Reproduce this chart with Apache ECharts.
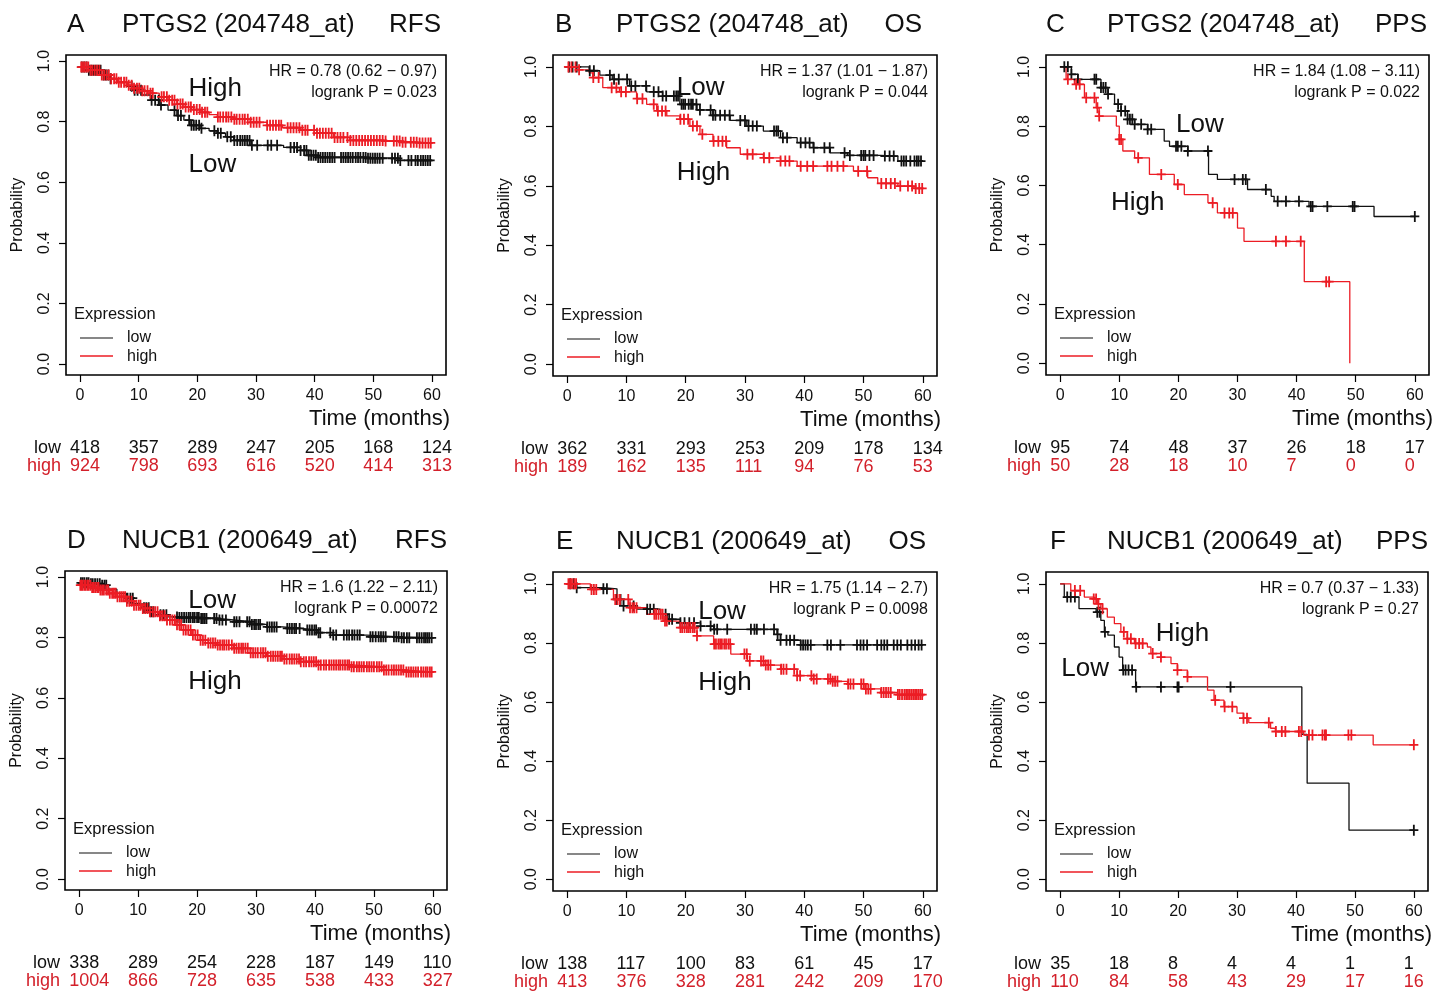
<!DOCTYPE html>
<html>
<head>
<meta charset="utf-8">
<title>PTGS2 / NUCB1 Kaplan-Meier</title>
<script src="https://cdn.jsdelivr.net/npm/echarts@6/dist/echarts.min.js"></script>
<style>
  html, body { margin: 0; padding: 0; background: #fff; }
  #chart { width: 1448px; height: 991px; }
</style>
</head>
<body>
<div id="chart"></div>
<script>
// ---- data ----
const ticksX = [0, 10, 20, 30, 40, 50, 60];
const ticksY = [0, 0.2, 0.4, 0.6, 0.8, 1.0];

// A  PTGS2 RFS
const aLowT = [0, 1.5, 3.6, 5, 6.4, 8, 9.2, 10.5, 12, 13.5, 15, 16.5, 17.7, 18.9, 20.6, 22, 23.4, 24.8, 26.2, 29, 34.7, 37.6, 38.7, 40.4, 49, 54.6, 60];
const aLowS = [0.98, 0.97, 0.954, 0.942, 0.93, 0.917, 0.904, 0.888, 0.871, 0.855, 0.838, 0.82, 0.805, 0.788, 0.778, 0.77, 0.762, 0.75, 0.738, 0.722, 0.715, 0.705, 0.689, 0.682, 0.679, 0.672, 0.669];
const aLowC = [0.3, 0.7, 1.1, 1.5, 1.9, 2.3, 2.7, 3.1, 3.5, 4, 4.4, 4.8, 5.2, 8.8, 9.3, 9.8, 10.4, 12.2, 12.8, 13.4, 13.8, 16.1, 16.7, 17.2, 18.6, 19, 19.4, 19.8, 20.3, 20.7, 22.9, 23.5, 24, 25.1, 25.7, 26.3, 26.8, 27.3, 27.7, 28.1, 28.5, 28.9, 29.3, 30.2, 32, 32.6, 33.6, 35.9, 36.5, 37, 37.6, 38.2, 38.6, 39, 39.4, 39.8, 40.2, 40.6, 41, 41.4, 41.8, 42.2, 42.6, 43, 43.4, 44.5, 44.9, 45.3, 45.7, 46.1, 46.5, 47, 47.4, 47.8, 48.3, 48.7, 49.1, 49.5, 49.9, 50.3, 50.7, 51.1, 51.6, 53.2, 53.7, 54.2, 54.6, 56, 56.5, 57.2, 57.6, 58.1, 58.5, 58.9, 59.3, 59.7];
const aHighT = [0, 1.5, 3.6, 5, 6.4, 8, 9.2, 10.5, 12, 13.5, 15, 16.5, 17.7, 19, 20.6, 22, 23.4, 26.2, 29, 31.9, 34.5, 37.6, 40.4, 43.2, 46, 51.7, 54.6, 57.5, 60];
const aHighS = [0.98, 0.97, 0.954, 0.942, 0.93, 0.92, 0.91, 0.902, 0.894, 0.882, 0.871, 0.858, 0.848, 0.84, 0.831, 0.823, 0.815, 0.808, 0.798, 0.788, 0.78, 0.772, 0.762, 0.748, 0.738, 0.736, 0.732, 0.73, 0.73];
const aHighC = [0.2, 0.5, 0.8, 1.1, 1.4, 1.8, 2.1, 2.5, 2.9, 3.3, 3.7, 4.1, 4.5, 4.9, 5.3, 5.8, 6.2, 6.6, 7, 7.5, 7.9, 8.3, 8.8, 9.2, 9.7, 10.1, 10.6, 11, 11.5, 12, 12.4, 13.9, 14.3, 14.8, 15.2, 15.7, 16.1, 16.6, 17.1, 17.5, 18, 18.5, 18.9, 19.4, 19.9, 20.4, 20.8, 21.3, 21.7, 23.5, 23.9, 24.4, 24.9, 25.3, 25.8, 26.3, 26.7, 27.2, 27.7, 28.1, 28.6, 29.1, 29.6, 30.1, 30.6, 31.9, 32.4, 32.9, 33.4, 33.9, 34.3, 35.4, 35.9, 36.4, 36.9, 37.4, 37.9, 38.4, 38.8, 39.9, 40.4, 40.9, 41.4, 41.9, 42.4, 42.9, 43.4, 43.9, 44.4, 44.9, 45.6, 46.1, 46.6, 47.1, 47.6, 48.1, 48.6, 49.1, 49.6, 50.1, 50.6, 51.1, 51.6, 52.1, 53.5, 54, 54.5, 55, 55.5, 56.4, 56.9, 57.4, 57.9, 58.4, 58.9, 59.4, 59.8];
const aRiskLow = [418, 357, 289, 247, 205, 168, 124];
const aRiskHigh = [924, 798, 693, 616, 520, 414, 313];

// B  PTGS2 OS
const bLowT = [0, 3.7, 5.5, 7.6, 10.5, 13.4, 16.1, 19, 21.9, 24.6, 27.5, 30.3, 33.1, 36, 38.8, 41.5, 44.4, 47.3, 52.9, 55.8, 60];
const bLowS = [1.0, 0.987, 0.972, 0.958, 0.936, 0.916, 0.902, 0.874, 0.855, 0.837, 0.82, 0.801, 0.784, 0.762, 0.745, 0.728, 0.711, 0.702, 0.7, 0.683, 0.68];
const bLowC = [0.3, 0.9, 1.6, 3.8, 4.5, 7.2, 7.9, 8.7, 10.1, 10.8, 11.5, 13.3, 14.6, 15.4, 16.1, 16.7, 18, 18.4, 18.7, 19.3, 19.6, 19.9, 20.5, 20.9, 21.2, 21.8, 22.4, 24.2, 24.6, 25, 25.8, 26.6, 27.4, 29.2, 30, 30.6, 31.3, 32, 34.9, 35.3, 35.6, 36.4, 37.1, 39.4, 40.2, 40.9, 41.6, 43.4, 44.3, 46.8, 47.7, 49.6, 50, 50.3, 51, 51.7, 53.6, 54.4, 55.1, 56.4, 56.8, 57.2, 57.9, 58.6, 59, 59.3, 59.7];
const bHighT = [0, 2, 3.7, 4.3, 6, 8.8, 11.7, 13.4, 15.1, 16.8, 19, 20.7, 22.4, 24.6, 26.9, 29.2, 33.1, 36, 38.8, 46.1, 48.3, 50.7, 52.4, 55.8, 58.5, 60];
const bHighS = [1.0, 0.99, 0.98, 0.964, 0.93, 0.916, 0.893, 0.874, 0.852, 0.835, 0.824, 0.801, 0.773, 0.75, 0.728, 0.706, 0.694, 0.683, 0.666, 0.666, 0.649, 0.627, 0.608, 0.599, 0.591, 0.591];
const bHighC = [0.2, 0.7, 1.4, 2, 4.4, 5.3, 7.5, 8.3, 9.1, 9.9, 11.8, 12.7, 14.6, 15.3, 16, 16.6, 19.1, 19.7, 20.4, 21.2, 21.9, 22.8, 24.7, 25.5, 26.2, 26.8, 30.4, 31.3, 33.2, 34.1, 36, 36.8, 37.5, 39.4, 40.5, 41.5, 43.9, 44.6, 45.6, 46.6, 49.1, 50.6, 53, 53.8, 54.6, 55.3, 56.2, 57.5, 58.2, 58.8, 59.4, 59.9];
const bRiskLow = [362, 331, 293, 253, 209, 178, 134];
const bRiskHigh = [189, 162, 135, 111, 94, 76, 53];

// C  PTGS2 PPS
const cLowT = [0, 1.9, 3, 6.9, 8.1, 9.2, 10.3, 11.4, 12.6, 14.8, 17.6, 18.5, 21.6, 25.1, 26.6, 31.7, 35.7, 36.2, 42.1, 53.1, 60];
const cLowS = [1.0, 0.975, 0.958, 0.93, 0.908, 0.874, 0.851, 0.823, 0.806, 0.789, 0.749, 0.732, 0.716, 0.637, 0.62, 0.586, 0.563, 0.546, 0.529, 0.495, 0.495];
const cLowC = [0.7, 1.3, 1.9, 3, 5.8, 6.1, 6.9, 7.3, 7.7, 8.1, 9.8, 10.3, 11, 11.4, 11.8, 12.2, 12.6, 13.7, 14.8, 15.4, 19.6, 19.9, 20.5, 21.6, 25, 29.5, 30.9, 31.4, 34.8, 36.8, 38.2, 40.4, 42.4, 42.7, 45.2, 49.5, 49.8, 60];
const cHighT = [0, 1, 2.4, 4.1, 6.1, 6.6, 9.5, 10, 10.6, 12.6, 15.1, 19.3, 21, 25, 26.6, 30, 31.1, 41.3, 49];
const cHighS = [1.0, 0.958, 0.941, 0.896, 0.862, 0.834, 0.8, 0.755, 0.716, 0.693, 0.637, 0.603, 0.569, 0.541, 0.507, 0.456, 0.411, 0.275, 0];
const cHighC = [1.3, 2.7, 3.3, 4.4, 5.8, 6.3, 6.6, 10, 10.3, 13.2, 17.1, 19.9, 25.8, 27.8, 28.6, 29.2, 36.5, 38.2, 40.7, 45, 45.5];
const cRiskLow = [95, 74, 48, 37, 26, 18, 17];
const cRiskHigh = [50, 28, 18, 10, 7, 0, 0];

// D  NUCB1 RFS
const dLowT = [0, 2, 3.6, 5, 6.4, 8, 9.2, 10.5, 12, 13.5, 14.9, 17, 20.5, 23.5, 26.2, 29, 31.8, 34.5, 37.5, 40.5, 43.1, 48.8, 54.5, 60];
const dLowS = [0.981, 0.978, 0.973, 0.96, 0.946, 0.93, 0.913, 0.898, 0.885, 0.875, 0.868, 0.866, 0.863, 0.858, 0.852, 0.843, 0.835, 0.83, 0.825, 0.816, 0.808, 0.802, 0.799, 0.797];
const dLowC = [0.3, 0.6, 0.9, 1.3, 1.6, 2, 2.3, 2.7, 3.1, 3.5, 3.9, 4.3, 4.6, 8.2, 8.7, 9.1, 11, 11.4, 11.8, 12.2, 12.6, 13.8, 14.3, 14.8, 16.6, 17, 17.4, 17.8, 18.2, 18.6, 18.9, 19.3, 19.6, 20, 20.3, 20.7, 21, 21.3, 21.6, 22.9, 23.3, 23.8, 24.3, 24.9, 26.3, 26.7, 27.2, 28.5, 28.9, 29.3, 29.7, 30, 30.4, 30.7, 31.9, 32.3, 32.7, 33.1, 33.5, 35.3, 35.7, 36.1, 36.5, 36.8, 37.4, 38.7, 39.1, 39.5, 39.9, 40.2, 40.6, 40.9, 42.6, 43.1, 43.6, 44.9, 45.4, 45.8, 46.3, 46.7, 47.2, 47.6, 49.4, 49.8, 50.3, 50.8, 51.2, 51.6, 52, 53.4, 53.8, 54.2, 54.7, 55.1, 55.6, 56, 57.3, 57.7, 58.1, 58.5, 58.8, 59.1, 59.4, 59.8];
const dHighT = [0, 2, 3.6, 5, 6.4, 8, 9.2, 10.5, 12, 13.5, 14.9, 16.3, 17.7, 19.1, 20.5, 21.9, 23.3, 26.2, 29, 31.8, 34.6, 37.5, 40.3, 45.9, 51.6, 55.5, 60];
const dHighS = [0.973, 0.965, 0.957, 0.946, 0.935, 0.92, 0.907, 0.896, 0.885, 0.872, 0.858, 0.842, 0.825, 0.808, 0.791, 0.782, 0.775, 0.764, 0.749, 0.738, 0.729, 0.72, 0.709, 0.703, 0.692, 0.686, 0.683];
const dHighC = [0.2, 0.4, 0.6, 0.9, 1.1, 1.4, 1.6, 1.9, 2.2, 2.5, 2.8, 3.1, 3.3, 3.6, 3.9, 4.2, 4.6, 4.9, 5.2, 5.6, 5.9, 6.2, 6.5, 6.9, 7.2, 7.5, 7.8, 8.1, 8.5, 8.9, 9.3, 9.7, 10.1, 10.4, 10.8, 11.2, 11.6, 12, 12.5, 12.9, 13.3, 13.7, 14.1, 14.5, 14.9, 15.4, 15.8, 16.2, 16.6, 17, 17.3, 17.7, 18.1, 18.5, 18.9, 19.3, 19.7, 20.1, 20.6, 21, 21.4, 21.9, 22.3, 22.7, 23.1, 23.5, 23.9, 24.3, 24.6, 25, 25.4, 25.9, 26.3, 26.7, 27.1, 27.5, 27.8, 28.2, 28.6, 29.1, 29.5, 29.9, 30.3, 30.8, 31.2, 31.6, 32, 32.5, 32.9, 33.3, 33.7, 34.1, 34.4, 34.8, 35.2, 35.7, 36.1, 36.5, 36.9, 37.3, 37.6, 38.1, 38.5, 39, 39.4, 39.8, 40.2, 40.6, 41, 41.5, 41.9, 42.4, 42.8, 43.2, 43.6, 44, 44.3, 44.7, 45.1, 45.5, 45.8, 46.2, 46.6, 47.1, 47.5, 47.9, 48.3, 48.8, 49.2, 49.6, 50, 50.5, 50.9, 51.3, 51.7, 52.1, 52.5, 53, 53.4, 53.8, 54.2, 54.6, 55, 55.5, 55.9, 56.3, 56.7, 57.1, 57.5, 58, 58.4, 58.8, 59.1, 59.5, 59.8];
const dRiskLow = [338, 289, 254, 228, 187, 149, 110];
const dRiskHigh = [1004, 866, 728, 635, 538, 433, 327];

// E  NUCB1 OS
const eLowT = [0, 1.4, 6.1, 8.4, 9.5, 11.8, 15.7, 16.9, 19.1, 22.5, 24.7, 35.4, 36, 39.4, 60];
const eLowS = [1.0, 0.987, 0.983, 0.947, 0.925, 0.914, 0.897, 0.88, 0.868, 0.857, 0.846, 0.829, 0.809, 0.793, 0.793];
const eLowC = [0.5, 1.1, 1.6, 6.1, 6.7, 8.4, 9, 9.5, 11.2, 13.5, 14, 14.6, 16.6, 17.2, 17.7, 19.1, 19.8, 20.6, 21.4, 22.5, 24.2, 24.8, 25.3, 27, 31, 31.6, 32, 33.2, 34.9, 35.5, 36, 37, 37.6, 38.3, 39.4, 39.8, 40.2, 40.6, 41.1, 43.9, 44.5, 46.1, 48.9, 49.5, 50, 50.6, 52.3, 53, 53.5, 54, 55.1, 55.7, 56.3, 57.4, 58.1, 58.7, 59.3, 59.8];
const eHighT = [0, 3.9, 7.8, 10.6, 13.4, 16.2, 19.1, 21.9, 24.7, 27.6, 30.4, 33.2, 36, 38.8, 41.6, 44.5, 47.3, 50.1, 52.9, 55.7, 60];
const eHighS = [1.0, 0.981, 0.947, 0.919, 0.897, 0.874, 0.852, 0.824, 0.796, 0.762, 0.739, 0.725, 0.711, 0.689, 0.678, 0.67, 0.661, 0.644, 0.632, 0.625, 0.618];
const eHighC = [0.2, 0.5, 0.8, 1.2, 1.5, 4.1, 4.5, 4.9, 8.1, 8.5, 8.9, 10.3, 10.6, 11, 11.3, 11.7, 14.7, 15, 15.4, 15.8, 16.1, 16.5, 16.8, 19.1, 19.4, 19.8, 20.2, 20.5, 20.8, 21.2, 21.5, 21.9, 24.8, 25.1, 25.5, 25.8, 26.1, 26.5, 26.8, 27.2, 27.5, 29.9, 30.3, 30.8, 32.7, 33.1, 33.5, 33.9, 34.3, 36.1, 36.5, 37, 38.3, 38.8, 39.3, 41.2, 41.6, 42.1, 44, 44.4, 44.8, 45.2, 45.6, 47.4, 47.8, 48.3, 49.6, 50, 50.4, 50.8, 51.2, 53, 53.4, 53.8, 54.2, 54.6, 55.8, 56.1, 56.5, 56.9, 57.2, 57.5, 57.8, 58.1, 58.4, 58.7, 59, 59.3, 59.6, 59.9];
const eRiskLow = [138, 117, 100, 83, 61, 45, 17];
const eRiskHigh = [413, 376, 328, 281, 242, 209, 170];

// F  NUCB1 PPS
const fLowT = [0, 0.7, 3.2, 6.1, 6.9, 7.5, 8.1, 9.2, 10, 10.6, 12.8, 41, 41.9, 49, 60];
const fLowS = [1.0, 0.955, 0.916, 0.904, 0.876, 0.837, 0.826, 0.786, 0.752, 0.708, 0.651, 0.49, 0.325, 0.166, 0.166];
const fLowC = [1.2, 1.8, 2.5, 6.3, 6.7, 7.6, 10.7, 11.1, 11.6, 12.2, 12.9, 17.1, 19.9, 20.1, 28.9, 60];
const fHighT = [0, 1.8, 4.1, 5.7, 6.3, 6.9, 8, 9.2, 10.3, 11.4, 12.6, 14.8, 15.4, 17.1, 18.8, 19.9, 21.6, 25, 26.1, 27.8, 30, 31.1, 32, 35.7, 36.5, 41.3, 53.1, 60];
const fHighS = [1.0, 0.977, 0.955, 0.949, 0.932, 0.916, 0.887, 0.865, 0.837, 0.814, 0.798, 0.786, 0.764, 0.752, 0.73, 0.708, 0.685, 0.64, 0.606, 0.584, 0.562, 0.545, 0.53, 0.511, 0.5, 0.488, 0.455, 0.455];
const fHighC = [2.5, 3.4, 5.7, 6.1, 6.5, 7.2, 10.8, 11.4, 12, 12.8, 13.4, 14, 15.7, 17.1, 19.9, 21.6, 26.3, 27.9, 29.2, 31.1, 31.7, 35.4, 36.6, 37.6, 38.2, 40.5, 40.9, 42.2, 42.8, 44.5, 44.9, 45.1, 48.9, 49.4, 60];
const fRiskLow = [35, 18, 8, 4, 4, 1, 1];
const fRiskHigh = [110, 84, 58, 43, 29, 17, 16];

// ---- layout ----
const FONT = '"Liberation Sans", Arial, sans-serif';
const RED = '#ec1c24';
const RED_TXT = '#d3202a';
const INK = '#111';

const panels = [
  { letter: 'A', gene: 'PTGS2 (204748_at)', end: 'RFS', hr: 'HR = 0.78 (0.62 \u2212 0.97)', p: 'logrank P = 0.023',
    low: [aLowT, aLowS, aLowC], high: [aHighT, aHighS, aHighC], risk: [aRiskLow, aRiskHigh],
    box: [66, 55, 380, 320], ylim: [-0.036, 1.02], tx: [67, 122, 441],
    tags: [['High', 18.5, 0.91], ['Low', 18.5, 0.656]] },
  { letter: 'B', gene: 'PTGS2 (204748_at)', end: 'OS', hr: 'HR = 1.37 (1.01 \u2212 1.87)', p: 'logrank P = 0.044',
    low: [bLowT, bLowS, bLowC], high: [bHighT, bHighS, bHighC], risk: [bRiskLow, bRiskHigh],
    box: [553, 55, 384, 321], ylim: [-0.04, 1.04], tx: [555, 616, 922],
    tags: [['Low', 18.5, 0.93], ['High', 18.5, 0.645]] },
  { letter: 'C', gene: 'PTGS2 (204748_at)', end: 'PPS', hr: 'HR = 1.84 (1.08 \u2212 3.11)', p: 'logrank P = 0.022',
    low: [cLowT, cLowS, cLowC], high: [cHighT, cHighS, cHighC], risk: [cRiskLow, cRiskHigh],
    box: [1046, 55, 383, 320], ylim: [-0.04, 1.04], tx: [1046, 1107, 1427],
    tags: [['Low', 19.6, 0.806], ['High', 8.6, 0.542]] },
  { letter: 'D', gene: 'NUCB1 (200649_at)', end: 'RFS', hr: 'HR = 1.6 (1.22 \u2212 2.11)', p: 'logrank P = 0.00072',
    low: [dLowT, dLowS, dLowC], high: [dHighT, dHighS, dHighC], risk: [dRiskLow, dRiskHigh],
    box: [65, 571, 382, 319], ylim: [-0.036, 1.02], tx: [67, 122, 447],
    tags: [['Low', 18.5, 0.92], ['High', 18.5, 0.652]] },
  { letter: 'E', gene: 'NUCB1 (200649_at)', end: 'OS', hr: 'HR = 1.75 (1.14 \u2212 2.7)', p: 'logrank P = 0.0098',
    low: [eLowT, eLowS, eLowC], high: [eHighT, eHighS, eHighC], risk: [eRiskLow, eRiskHigh],
    box: [553, 572, 384, 319], ylim: [-0.04, 1.04], tx: [556, 616, 926],
    tags: [['Low', 22.1, 0.905], ['High', 22.1, 0.665]] },
  { letter: 'F', gene: 'NUCB1 (200649_at)', end: 'PPS', hr: 'HR = 0.7 (0.37 \u2212 1.33)', p: 'logrank P = 0.27',
    low: [fLowT, fLowS, fLowC], high: [fHighT, fHighS, fHighC], risk: [fRiskLow, fRiskHigh],
    box: [1046, 572, 382, 319], ylim: [-0.04, 1.04], tx: [1050, 1107, 1428],
    tags: [['High', 16.2, 0.832], ['Low', 0.2, 0.711]] }
];

// plus-sign censor mark
const PLUS = 'path://M3.2,0H4.8V4.2H8V5.8H4.8V10H3.2V5.8H0V4.2H3.2Z';

function stepAt(times, surv, t) {
  let v = surv[0];
  for (let i = 0; i < times.length; i++) if (times[i] <= t) v = surv[i];
  return v;
}
function pairs(t, s) { return t.map((x, i) => [x, s[i]]); }

const grids = [], xAxes = [], yAxes = [], series = [];
panels.forEach((p, i) => {
  grids.push({ left: p.box[0], top: p.box[1], width: p.box[2], height: p.box[3],
    show: true, borderColor: '#000', borderWidth: 1.6, backgroundColor: '#fff' });
  xAxes.push({ type: 'value', gridIndex: i, min: -2.4, max: 62.4,
    axisLine: { show: false, onZero: false }, splitLine: { show: false },
    axisTick: { show: true, customValues: ticksX, length: 7, lineStyle: { color: '#000', width: 1.2 } },
    axisLabel: { customValues: ticksX, fontSize: 16, fontFamily: FONT, color: INK, margin: 13 } });
  yAxes.push({ type: 'value', gridIndex: i, min: p.ylim[0], max: p.ylim[1],
    name: 'Probability', nameLocation: 'middle', nameGap: 40, nameRotate: 90,
    nameTextStyle: { fontSize: 16, fontFamily: FONT, color: INK },
    axisLine: { show: false, onZero: false }, splitLine: { show: false },
    axisTick: { show: true, customValues: ticksY, length: 7, lineStyle: { color: '#000', width: 1.2 } },
    axisLabel: { customValues: ticksY, rotate: 90, fontSize: 16, fontFamily: FONT, color: INK, margin: 13,
      formatter: v => v.toFixed(1) } });

  [[p.low, INK], [p.high, RED]].forEach(([g, col]) => {
    series.push({ type: 'line', xAxisIndex: i, yAxisIndex: i, step: 'end', symbol: 'none',
      data: pairs(g[0], g[1]), lineStyle: { color: col, width: 1.3 }, silent: true, z: 2 });
    series.push({ type: 'scatter', xAxisIndex: i, yAxisIndex: i, symbol: PLUS, symbolSize: [9, 11],
      data: g[2].map(t => [t, stepAt(g[0], g[1], t)]), itemStyle: { color: col, opacity: 1 },
      silent: true, z: 3 });
  });
});

const chart = echarts.init(document.getElementById('chart'), null, { renderer: 'canvas' });
chart.setOption({
  backgroundColor: '#fff',
  animation: false,
  grid: grids, xAxis: xAxes, yAxis: yAxes, series: series
});

// ---- text annotations, placed through the axes ----
function txt(x, y, text, size, color, align) {
  return { type: 'text', x: x, y: y, silent: true, z: 10,
    style: { text: text, fill: color, font: size + 'px ' + FONT,
      textAlign: align, align: align, textVerticalAlign: 'middle', verticalAlign: 'middle' } };
}
const g = [];
panels.forEach((p, i) => {
  const [L, T, W, H] = p.box;
  const R = L + W, B = T + H;
  // title
  g.push(txt(p.tx[0], T - 30, p.letter, 26, INK, 'left'));
  g.push(txt(p.tx[1], T - 30, p.gene, 26, INK, 'left'));
  g.push(txt(p.tx[2], T - 30, p.end, 26, INK, 'right'));
  // HR / logrank
  g.push(txt(R - 9, T + 17, p.hr, 16, INK, 'right'));
  g.push(txt(R - 9, T + 38, p.p, 16, INK, 'right'));
  // curve tags
  p.tags.forEach(tg => {
    const pt = chart.convertToPixel({ gridIndex: i }, [tg[1], tg[2]]);
    g.push(txt(pt[0], pt[1], tg[0], 26, INK, 'left'));
  });
  // legend
  g.push(txt(L + 8, B - 61, 'Expression', 16.5, INK, 'left'));
  g.push({ type: 'line', silent: true, z: 10, shape: { x1: L + 14, y1: B - 37, x2: L + 47, y2: B - 37 }, style: { stroke: INK, lineWidth: 1.2 } });
  g.push({ type: 'line', silent: true, z: 10, shape: { x1: L + 14, y1: B - 19, x2: L + 47, y2: B - 19 }, style: { stroke: RED, lineWidth: 1.6 } });
  g.push(txt(L + 61, B - 37, 'low', 16, INK, 'left'));
  g.push(txt(L + 61, B - 18, 'high', 16, INK, 'left'));
  // x title
  g.push(txt(R + 4, B + 44, 'Time (months)', 22, INK, 'right'));
  // numbers at risk
  g.push(txt(L - 5, B + 73, 'low', 18, INK, 'right'));
  g.push(txt(L - 5, B + 91, 'high', 18, RED_TXT, 'right'));
  ticksX.forEach((t, k) => {
    const x = chart.convertToPixel({ xAxisIndex: i }, t);
    g.push(txt(x - 10, B + 73, String(p.risk[0][k]), 18, INK, 'left'));
    g.push(txt(x - 10, B + 91, String(p.risk[1][k]), 18, RED_TXT, 'left'));
  });
});
chart.setOption({ graphic: { elements: g } });
</script>
</body>
</html>
